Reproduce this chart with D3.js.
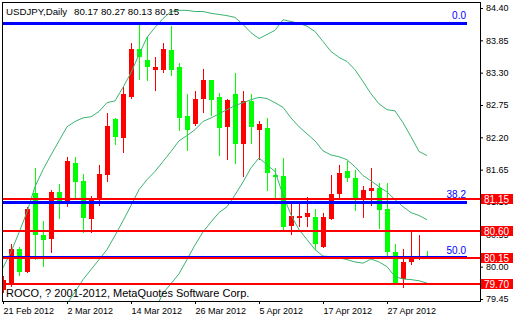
<!DOCTYPE html>
<html>
<head>
<meta charset="utf-8">
<script src="https://cdn.jsdelivr.net/npm/d3@7"></script>
<style>
body { margin: 0; background: #fff; }
text { font-family: "Liberation Sans", Arial, sans-serif; font-size: 9px; }
</style>
</head>
<body>
<svg id="chart" width="520" height="320"></svg>
<script>
// USDJPY daily bars, 21 Feb 2012 .. 4 May 2012
var open = [79.60, 79.72, 80.30, 79.91, 81.26, 80.54, 80.47, 81.27, 81.11, 81.77, 81.46, 80.81, 81.17, 81.56, 82.52, 82.19, 82.89, 83.71, 83.52, 83.34, 83.35, 83.69, 83.39, 82.57, 82.42, 82.86, 83.17, 82.88, 82.38, 82.94, 82.09, 82.81, 82.33, 82.36, 81.56, 81.55, 80.70, 80.83, 80.85, 80.85, 80.34, 80.81, 81.24, 81.62, 81.50, 81.17, 81.29, 81.33, 80.98, 80.25, 79.79, 80.08, 80.13, 80.17]
var high = [79.84, 80.39, 80.34, 81.02, 81.67, 80.78, 81.31, 81.41, 81.87, 81.87, 81.58, 81.21, 81.73, 82.62, 82.53, 83.05, 83.81, 84.14, 83.90, 83.56, 83.81, 84.09, 83.46, 82.93, 82.98, 83.37, 83.18, 82.96, 82.86, 83.30, 82.98, 82.94, 82.47, 82.53, 81.68, 81.85, 81.07, 81.07, 81.19, 80.98, 80.92, 81.56, 81.73, 81.79, 81.65, 81.38, 81.68, 81.43, 81.43, 80.39, 80.30, 80.61, 80.54, 80.27]
var low = [79.55, 79.66, 79.84, 79.90, 80.12, 80.00, 80.24, 80.81, 81.02, 81.17, 80.58, 80.58, 81.04, 81.44, 82.07, 81.94, 82.86, 83.17, 83.15, 82.98, 83.30, 83.25, 82.30, 81.96, 82.40, 82.62, 82.57, 81.89, 81.82, 81.75, 81.53, 82.09, 81.82, 81.29, 81.17, 80.63, 80.54, 80.68, 80.68, 80.29, 80.32, 80.80, 81.17, 81.44, 80.95, 80.83, 81.04, 80.64, 80.18, 79.72, 79.64, 80.03, 80.12, 80.13]
var close = [79.77, 80.30, 79.91, 80.98, 80.54, 80.46, 81.27, 81.10, 81.79, 81.44, 80.83, 81.17, 81.58, 82.40, 82.21, 82.93, 83.71, 83.56, 83.39, 83.39, 83.71, 83.35, 82.53, 82.33, 82.86, 83.18, 82.84, 82.36, 82.84, 82.09, 82.81, 82.38, 82.42, 81.60, 81.53, 80.68, 80.87, 80.87, 80.92, 80.39, 80.85, 81.24, 81.60, 81.50, 81.17, 81.31, 81.34, 80.97, 80.25, 79.72, 80.08, 80.15, 80.15, 80.15]

// bollinger bands (early lower/middle values sit below the window)
var bandUpper = [79.98, 80.25, 80.58, 80.93, 81.36, 81.65, 81.90, 82.14, 82.38, 82.47, 82.53, 82.55, 82.64, 82.79, 82.82, 83.05, 83.30, 83.61, 83.90, 84.07, 84.22, 84.34, 84.36, 84.36, 84.34, 84.34, 84.31, 84.29, 84.27, 84.24, 84.12, 83.98, 83.88, 83.95, 84.02, 84.20, 84.17, 84.14, 84.09, 84.00, 83.83, 83.66, 83.56, 83.49, 83.35, 83.15, 82.94, 82.77, 82.67, 82.65, 82.45, 82.21, 81.96, 81.89]
var bandMiddle = [78.17, 78.28, 78.38, 78.50, 78.63, 78.79, 78.96, 79.16, 79.37, 79.57, 79.78, 79.95, 80.12, 80.29, 80.53, 80.78, 81.04, 81.31, 81.48, 81.62, 81.79, 81.96, 82.14, 82.23, 82.33, 82.47, 82.53, 82.60, 82.67, 82.74, 82.79, 82.84, 82.88, 82.86, 82.79, 82.71, 82.53, 82.38, 82.26, 82.14, 81.97, 81.90, 81.87, 81.82, 81.70, 81.55, 81.46, 81.36, 81.27, 81.14, 81.02, 80.92, 80.87, 80.80]
var bandLower = [76.40, 76.30, 76.20, 76.10, 75.95, 75.85, 75.90, 76.15, 76.40, 76.70, 77.00, 77.30, 77.60, 77.85, 78.10, 78.40, 78.65, 78.85, 79.05, 79.26, 79.55, 79.71, 79.88, 80.12, 80.37, 80.59, 80.76, 80.92, 81.02, 81.22, 81.44, 81.68, 81.85, 81.73, 81.62, 81.22, 80.88, 80.63, 80.46, 80.29, 80.18, 80.17, 80.15, 80.12, 80.08, 80.06, 80.13, 80.08, 80.00, 79.83, 79.79, 79.78, 79.76, 79.72]

var levels = [81.15, 80.60, 80.15, 79.70]
var fibHigh = 84.14
var fibLow = 76.17
var fibLevels = [0.0, 38.2, 50.0]

var priceTicks = [84.40, 83.85, 83.30, 82.75, 82.20, 81.65, 81.10, 80.55, 80.00, 79.45]
var dateBars = [0, 8, 16, 24, 32, 40, 48]
var dateLabels = ["21 Feb 2012", "2 Mar 2012", "14 Mar 2012", "26 Mar 2012", "5 Apr 2012", "17 Apr 2012", "27 Apr 2012"]

var svg = d3.select("#chart")
var plotL = 2, plotT = 2, plotR = 480, plotB = 301
var bull = "#ff0000", bear = "#00ff00", fibColor = "#0000ff", bandColor = "#3cb371"

var x = d3.scaleLinear().domain([0, 53]).range([3, 427])
var y = d3.scaleLinear().domain([79.45, 84.40]).range([299, 8])

svg.append("rect").attr("width", 520).attr("height", 320).attr("fill", "#fff")

svg.append("clipPath").attr("id", "plot")
  .append("rect").attr("x", plotL + 1).attr("y", plotT + 1)
  .attr("width", plotR - plotL - 1).attr("height", plotB - plotT - 1)

var plot = svg.append("g").attr("clip-path", "url(#plot)").attr("shape-rendering", "crispEdges")

var bars = d3.range(open.length)
var candle = plot.selectAll(".candle").data(bars).enter().append("g").classed("candle", true)
candle.append("rect")
  .attr("x", function (i) { return Math.round(x(i)) })
  .attr("width", 1)
  .attr("y", function (i) { return y(high[i]) })
  .attr("height", function (i) { return Math.max(1, y(low[i]) - y(high[i])) })
  .attr("fill", function (i) { return close[i] >= open[i] ? bull : bear })
candle.append("rect")
  .attr("x", function (i) { return Math.round(x(i)) - 2 })
  .attr("width", 5)
  .attr("y", function (i) { return y(Math.max(open[i], close[i])) })
  .attr("height", function (i) { return Math.max(1, Math.abs(y(open[i]) - y(close[i]))) })
  .attr("fill", function (i) { return close[i] >= open[i] ? bull : bear })

var band = d3.line().x(function (d, i) { return x(i) }).y(function (d) { return y(d) })
;[bandUpper, bandMiddle, bandLower].forEach(function (b) {
  plot.append("path").datum(b).attr("d", band)
    .attr("fill", "none").attr("stroke", bandColor).attr("stroke-width", 1)
    .attr("shape-rendering", "auto")
})

// fibo levels
fibLevels.forEach(function (f) {
  var p = fibHigh - (fibHigh - fibLow) * f / 100
  plot.append("line").attr("x1", plotL).attr("x2", 467)
    .attr("y1", y(p)).attr("y2", y(p))
    .attr("stroke", fibColor).attr("stroke-width", 3)
  svg.append("text").attr("x", 466).attr("y", y(p) - 4)
    .attr("text-anchor", "end").attr("fill", fibColor).style("font-size", "10px").text(f.toFixed(1))
})

levels.forEach(function (p) {
  plot.append("line").attr("x1", plotL).attr("x2", plotR)
    .attr("y1", y(p)).attr("y2", y(p))
    .attr("stroke", bull).attr("stroke-width", 2)
})

// frame
svg.append("path")
  .attr("d", "M" + (plotL + 0.5) + "," + (plotB + 0.5) + "V" + (plotT + 0.5) + "H" + (plotR + 0.5) + "V" + (plotB + 0.5) + "Z")
  .attr("fill", "none").attr("stroke", "#000").attr("shape-rendering", "crispEdges")

var yAxis = svg.append("g").attr("transform", "translate(" + plotR + ",0)")
  .call(d3.axisRight(y).tickValues(priceTicks).tickSize(3).tickPadding(3).tickFormat(d3.format(".2f")))
yAxis.select(".domain").remove()
yAxis.selectAll("text").attr("fill", "#000")

var xAxis = svg.append("g").attr("transform", "translate(0," + plotB + ")")
  .call(d3.axisBottom(x).tickValues(dateBars).tickSize(3).tickPadding(4)
    .tickFormat(function (d, i) { return dateLabels[i] }))
xAxis.select(".domain").remove()
xAxis.selectAll("text").attr("text-anchor", "start").attr("fill", "#000")

// price labels for the horizontal levels
levels.forEach(function (p) {
  var g = svg.append("g").attr("transform", "translate(481," + Math.round(y(p)) + ")")
  g.append("rect").attr("x", 0).attr("y", -5).attr("width", 32).attr("height", 10).attr("fill", bull)
  g.append("text").attr("x", 3).attr("dy", "0.36em").attr("fill", "#fff").style("font-size", "10px").text(p.toFixed(2))
})

svg.append("text").attr("x", 6).attr("y", 15).style("font-size", "9.7px").text("USDJPY,Daily")
svg.append("text").attr("x", 74).attr("y", 15).style("font-size", "9.7px")
  .text([open[53], high[53], low[53], close[53]].map(function (v) { return v.toFixed(2) }).join(" "))
svg.append("text").attr("x", 6).attr("y", 297).style("font-size", "11px").text("ROCO, ? 2001-2012, MetaQuotes Software Corp.")
</script>
</body>
</html>
